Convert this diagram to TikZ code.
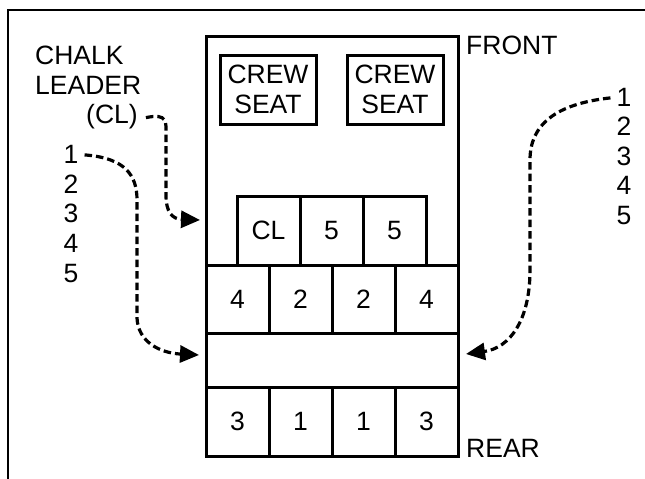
\documentclass[tikz,border=0pt]{standalone}
\usepackage{fontspec}
\setmainfont{Liberation Sans}
\usetikzlibrary{arrows.meta}
\begin{document}
\begin{tikzpicture}[x=1pt,y=-1pt,
  every node/.style={font=\fontsize{26.5}{29.5}\selectfont, inner sep=0pt},
  box/.style={draw, line width=3pt, minimum width=63pt, minimum height=69pt},
  crewbox/.style={draw, line width=3pt, minimum width=96pt, minimum height=69pt, align=center},
  lbl/.style={anchor=base west},
  num/.style={anchor=base},
  dasharrow/.style={line width=3.2pt, dash pattern=on 7.5pt off 4pt, -{Triangle[length=19pt,width=17pt]}}
]
\useasboundingbox (0,0) rectangle (645,479);
\fill[white] (0,0) rectangle (645,479);
% outer frame
\draw[line width=2.2pt] (8,479) -- (8,10) -- (645,10);
% cabin
\node[draw, line width=3pt, minimum width=252pt, minimum height=420pt] (cabin) at (332,246) {};
% crew seats
\node[crewbox] (crew1) at (268,89.5) {CREW\\SEAT};
\node[crewbox] (crew2) at (395,89.5) {CREW\\SEAT};
% CL row
\node[box] (cl) at (268.5,230.5) {CL};
\node[box] (f1) at (331.5,230.5) {5};
\node[box] (f2) at (394.5,230.5) {5};
% 4 2 2 4 row
\node[box, minimum height=68pt] (a1) at (237.5,299) {4};
\node[box, minimum height=68pt] (a2) at (300.5,299) {2};
\node[box, minimum height=68pt] (a3) at (363.5,299) {2};
\node[box, minimum height=68pt] (a4) at (426.5,299) {4};
% aisle band
\node[draw, line width=3pt, minimum width=252pt, minimum height=54pt] (band) at (332,360) {};
% 3 1 1 3 row
\node[box] (b1) at (237.5,421.5) {3};
\node[box] (b2) at (300.5,421.5) {1};
\node[box] (b3) at (363.5,421.5) {1};
\node[box] (b4) at (426.5,421.5) {3};
% labels
\node[lbl] (front) at (466,54.5) {FRONT};
\node[lbl] (rear) at (466,457) {REAR};
\node[lbl] (chalk) at (35,64) {CHALK};
\node[lbl] (leader) at (35,94) {LEADER};
\node[lbl] (clt) at (86,123.5) {(CL)};
% left list
\node[num] (l1) at (71,163) {1};
\node[num] (l2) at (71,193) {2};
\node[num] (l3) at (71,222.5) {3};
\node[num] (l4) at (71,252) {4};
\node[num] (l5) at (71,282) {5};
% right list
\node[num] (r1) at (624,106) {1};
\node[num] (r2) at (624,135.5) {2};
\node[num] (r3) at (624,165) {3};
\node[num] (r4) at (624,194.5) {4};
\node[num] (r5) at (624,224) {5};
% arrow targets
\coordinate (tipcl) at (200,220);
\coordinate (tipl) at (199,355);
\coordinate (tipr) at (466,354);
% arrows
\draw[dasharrow] ([xshift=8pt,yshift=-1pt]clt.east) .. controls (168,113) and (166,122) .. (166,135)
   -- (166,195) .. controls (166,212) and (172,219) .. (tipcl);
\draw[dasharrow] ([xshift=6pt,yshift=-1pt]l1.east) .. controls (125,158) and (137,175) .. (137,200)
   -- (137,318) .. controls (138,342) and (160,353) .. (tipl);
\draw[dasharrow] ([xshift=-6pt,yshift=-1pt]r1.west) .. controls (555,104) and (530,125) .. (530,160)
   -- (530,270) .. controls (530,320) and (510,348) .. (tipr);
\end{tikzpicture}
\end{document}
